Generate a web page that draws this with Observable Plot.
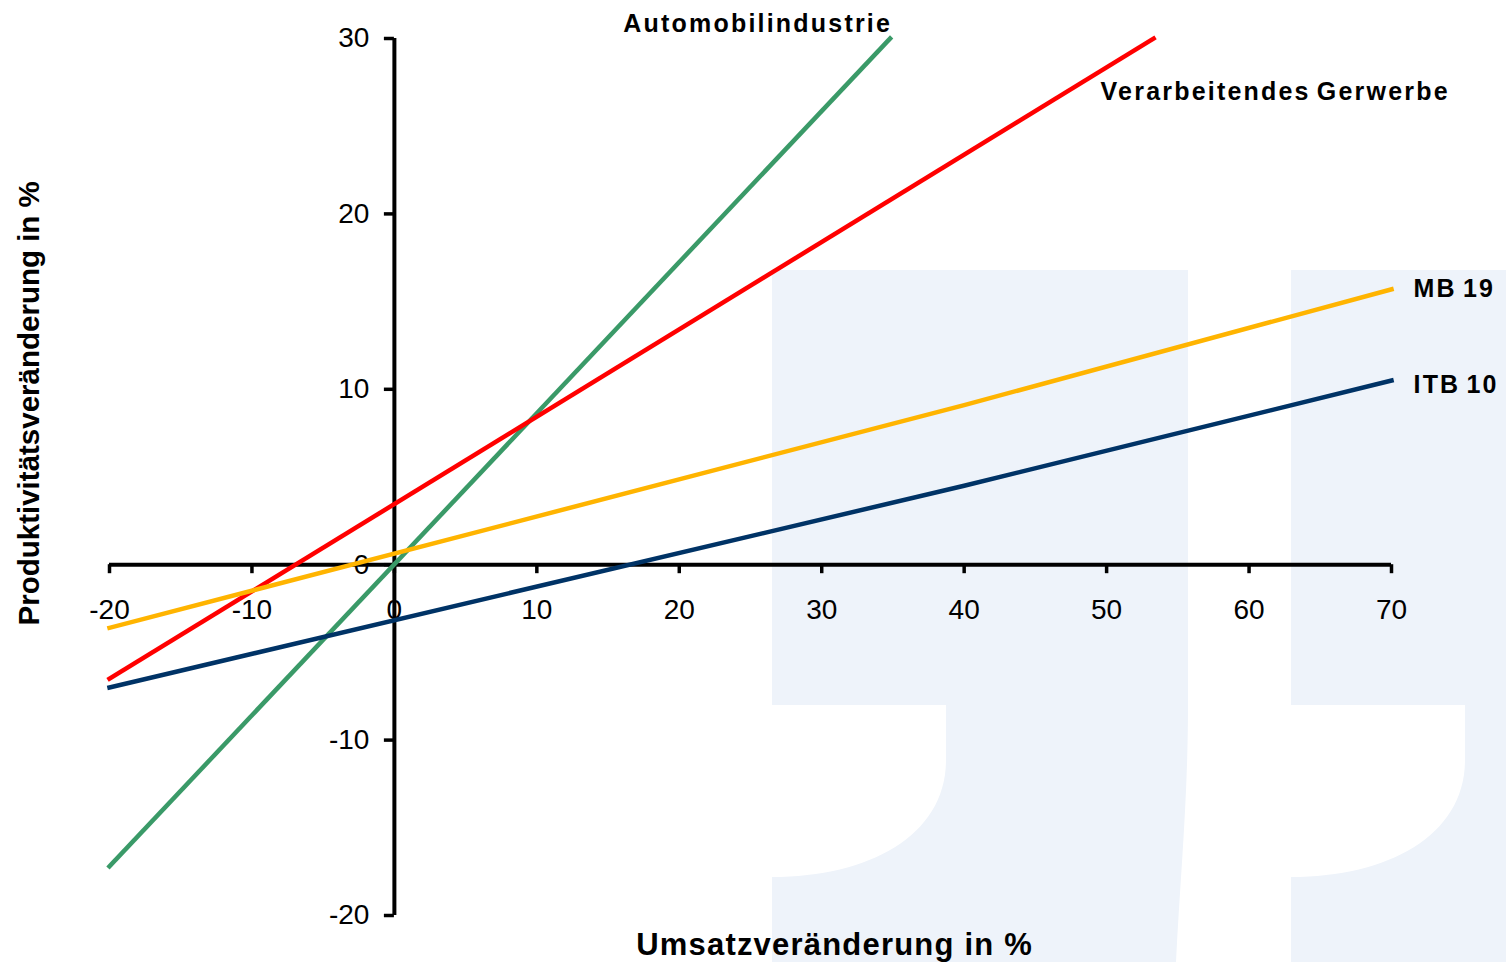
<!DOCTYPE html>
<html>
<head>
<meta charset="utf-8">
<script src="https://cdn.jsdelivr.net/npm/d3@7"></script>
<script src="https://cdn.jsdelivr.net/npm/@observablehq/plot@0.6"></script>
<style>
  body { margin: 0; background: #fff; }
  #wrap { position: relative; width: 1506px; height: 962px; overflow: hidden; }
  #wm, #chart { position: absolute; left: 0; top: 0; }
</style>
</head>
<body>
<div id="wrap">
  <!-- faint quotation-mark watermark behind the chart -->
  <svg id="wm" width="1506" height="962">
    <g fill="#eef3fa">
      <path d="M772,270 H1188 V705 C1188,800 1180,880 1176,962 H772 V877 C870,877 946,835 946,760 V705 H772 Z"/>
      <path transform="translate(519,0)" d="M772,270 H1188 V705 C1188,800 1180,880 1176,962 H772 V877 C870,877 946,835 946,760 V705 H772 Z"/>
    </g>
  </svg>
  <div id="chart"></div>
</div>
<script>
// Series: change in turnover (x) vs. change in productivity (y), in percent
const seriesNames = ["Automobilindustrie", "Verarbeitendes Gerwerbe", "MB 19", "ITB 10"];
const seriesColors = ["#3a9a68", "#ff0000", "#ffb400", "#003366"];

const autoX = [-20, 34.8];
const autoY = [-17.2, 30];

const verarbX = [-20, 53.3];
const verarbY = [-6.5, 30];

const mb19X = [-20, 40, 70];
const mb19Y = [-3.6, 9.1, 15.7];

const itb10X = [-20, 40, 70];
const itb10Y = [-7.0, 4.5, 10.5];

const xTicks = [-20, -10, 0, 10, 20, 30, 40, 50, 60, 70];
const yTicks = [-20, -10, 0, 10, 20, 30];

const xTitle = "Umsatzveränderung in %";
const yTitle = "Produktivitätsveränderung in %";

// long-format table built from the arrays above
const seriesXs = [autoX, verarbX, mb19X, itb10X];
const seriesYs = [autoY, verarbY, mb19Y, itb10Y];
const rows = seriesNames.flatMap((name, s) =>
  seriesXs[s].map((x, i) => ({series: name, x, y: seriesYs[s][i]}))
);
const ends = seriesNames.map((name, s) => ({
  series: name,
  x: seriesXs[s][seriesXs[s].length - 1],
  y: seriesYs[s][seriesYs[s].length - 1]
}));

const font = "'Liberation Sans', Arial, Helvetica, sans-serif";
const labelStyle = {x: "x", y: "y", text: "series", fontFamily: font, fontSize: 25, fontWeight: "bold", fill: "#000", lineAnchor: "middle"};

const chart = Plot.plot({
  width: 1506,
  height: 962,
  marginLeft: 109,
  marginRight: 115,
  marginTop: 38,
  marginBottom: 47,
  style: {background: "transparent", overflow: "visible"},
  x: {domain: [-20, 70], axis: null},
  y: {domain: [-20, 30], axis: null},
  color: {domain: seriesNames, range: seriesColors},
  marks: [
    // axes crossing at the origin
    Plot.ruleY([0], {x1: -20, x2: 70, stroke: "#000", strokeWidth: 4}),
    Plot.ruleX([0], {y1: -20, y2: 30, stroke: "#000", strokeWidth: 4}),
    Plot.ruleX(xTicks, {x: d => d, y1: 0, y2: 0, insetBottom: -9, stroke: "#000", strokeWidth: 3.5}),
    Plot.ruleY(yTicks, {y: d => d, x1: 0, x2: 0, insetLeft: -10, stroke: "#000", strokeWidth: 3.5}),
    Plot.text(xTicks, {x: d => d, y: 0, text: d => String(d), dy: 45, fontFamily: font, fontSize: 28, fill: "#000", lineAnchor: "middle"}),
    Plot.text(yTicks, {x: 0, y: d => d, text: d => String(d), dx: -25, textAnchor: "end", fontFamily: font, fontSize: 28, fill: "#000", lineAnchor: "middle"}),
    // regression lines
    Plot.line(rows, {x: "x", y: "y", z: "series", stroke: "series", strokeWidth: 4.5, strokeLinecap: "square"}),
    // series labels at the line ends
    Plot.text([ends[0]], {...labelStyle, textAnchor: "end", dx: 2, dy: -15}),
    Plot.text([ends[1]], {...labelStyle, textAnchor: "start", dx: -53, dy: 53}),
    Plot.text([ends[2]], {...labelStyle, textAnchor: "start", dx: 22, dy: 0}),
    Plot.text([ends[3]], {...labelStyle, textAnchor: "start", dx: 22, dy: 4}),
    // axis titles
    Plot.text([xTitle], {x: 30.9, y: -21.7, text: d => d, fontFamily: font, fontSize: 31, fontWeight: "bold", fill: "#000", lineAnchor: "middle"}),
    Plot.text([yTitle], {x: -25.6, y: 9.2, text: d => d, rotate: -90, fontFamily: font, fontSize: 29.5, fontWeight: "bold", fill: "#000", lineAnchor: "middle"})
  ]
});

// wider letter spacing on the bold labels
d3.select(chart).selectAll("text")
  .filter(function() { return seriesNames.includes(this.textContent); })
  .style("letter-spacing", "2.2px")
  .style("word-spacing", "-3px");
d3.select(chart).selectAll("text")
  .filter(function() { return this.textContent === xTitle; })
  .style("letter-spacing", "1.2px");
document.getElementById("chart").appendChild(chart);
</script>
</body>
</html>
